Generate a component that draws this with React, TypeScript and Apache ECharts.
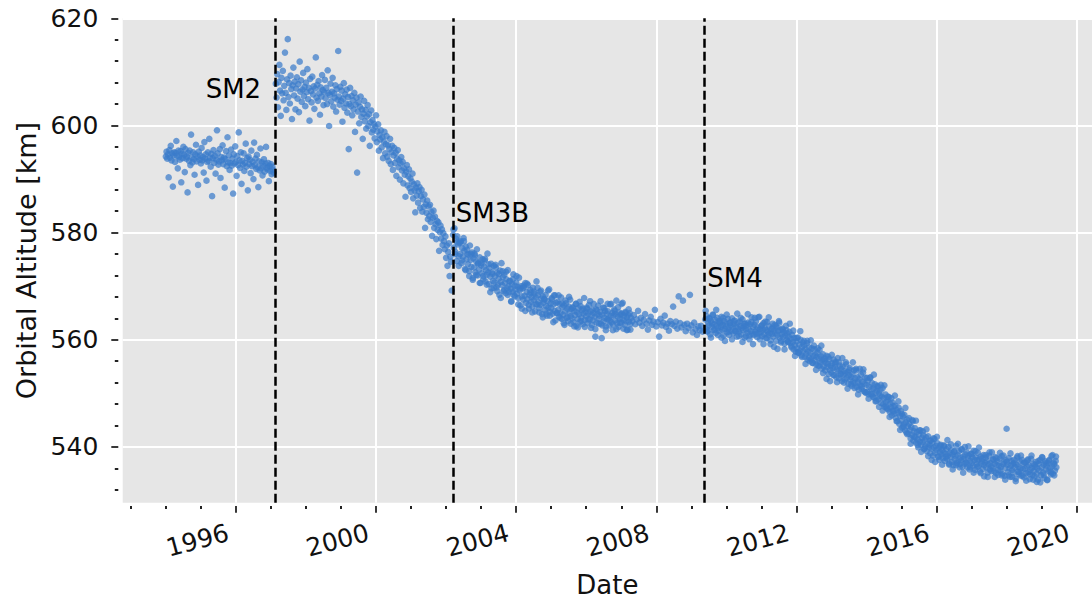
import React, { useEffect, useRef } from "react";
import * as echarts from "echarts";

// ---- Axis ticks ----
const majorYears = [1996, 2000, 2004, 2008, 2012, 2016, 2020];
const minorYears = [1993, 1994, 1995, 1997, 1998, 1999, 2001, 2002, 2003, 2005, 2006, 2007, 2009, 2010, 2011, 2013, 2014, 2015, 2017, 2018, 2019];
const majorAltitudes = [540, 560, 580, 600, 620];
const minorAltitudes = [532, 536, 544, 548, 552, 556, 564, 568, 572, 576, 584, 588, 592, 596, 604, 608, 612, 616];
const xMin = 1992.768;
const xMax = 2020.437;
const yMin = 529.6;
const yMax = 620;

// ---- Servicing missions ----
const missionNames = ["SM2", "SM3B", "SM4"];
const missionDates = [1997.12, 2002.19, 2009.37];
const missionLabelAltitudes = [606.8, 583.7, 571.5];

// ---- Altitude samples (km), each segment sampled at a regular epoch step (years) ----
const preSM2Start = 1994.0;
const preSM2Step = 0.02;
const preSM2Alt = [
  594.2, 595.1, 593.8, 594.6, 590.3, 595.4, 594.0, 596.2, 593.5, 594.8,
  588.6, 594.4, 595.0, 593.2, 594.9, 597.1, 594.3, 592.0, 595.3, 594.1,
  593.6, 595.2, 589.4, 594.7, 593.9, 596.0, 594.5, 591.3, 595.6, 593.8,
  594.2, 587.5, 594.9, 593.4, 595.3, 592.6, 598.3, 594.0, 593.1, 595.0,
  593.7, 590.8, 594.6, 596.4, 593.3, 594.2, 588.9, 595.1, 593.6, 594.4,
  592.9, 595.8, 593.5, 594.1, 591.2, 596.9, 593.8, 594.6, 589.7, 593.2,
  595.0, 593.4, 597.5, 594.0, 592.3, 594.7, 586.8, 593.9, 595.4, 593.0,
  594.3, 591.0, 593.6, 599.1, 594.8, 592.7, 593.3, 595.6, 590.2, 594.1,
  593.5, 596.3, 592.8, 594.0, 588.4, 593.7, 595.2, 592.4, 597.8, 593.1,
  594.4, 591.7, 593.0, 595.5, 592.5, 593.8, 587.3, 594.6, 592.9, 596.1,
  593.2, 590.6, 594.3, 592.6, 598.7, 593.5, 592.1, 595.0, 589.1, 593.4,
  592.7, 594.8, 591.5, 593.0, 596.6, 592.3, 593.9, 587.9, 594.2, 592.8,
  593.6, 591.1, 595.3, 592.4, 593.2, 590.0, 596.8, 592.6, 593.8, 591.9,
  594.5, 592.2, 588.5, 593.3, 591.6, 595.7, 592.0, 593.1, 590.7, 592.5,
  593.7, 591.4, 592.9, 596.0, 592.1, 591.8, 593.0, 589.6, 592.4, 591.5,
  592.8, 590.9, 592.3, 591.7, 591.2,
];

const sm2Start = 1997.14;
const sm2Step = 0.02;
const sm2Alt = [
  607.8, 605.2, 609.6, 603.4, 608.1, 611.3, 606.5, 601.8, 608.9, 606.0,
  610.2, 604.7, 607.4, 613.6, 606.1, 602.9, 608.6, 616.1, 605.3, 607.9,
  604.1, 609.3, 606.8, 601.2, 607.5, 610.8, 605.6, 608.2, 603.0, 606.9,
  609.0, 605.0, 607.7, 602.5, 611.9, 606.3, 608.4, 604.4, 606.7, 609.8,
  605.5, 607.2, 603.6, 608.0, 606.2, 610.5, 604.9, 607.0, 600.9, 608.7,
  606.4, 604.3, 609.1, 605.8, 607.3, 603.1, 606.9, 612.7, 605.2, 607.6,
  604.6, 608.3, 606.0, 602.0, 607.1, 605.4, 609.4, 606.6, 603.8, 606.2,
  608.5, 605.1, 607.0, 604.0, 610.3, 606.1, 599.9, 605.7, 607.8, 604.5,
  606.3, 608.9, 603.5, 606.0, 605.2, 607.5, 602.6, 606.8, 604.8, 613.9,
  605.4, 603.9, 607.2, 604.6, 606.5, 600.7, 605.0, 607.9, 603.3, 605.8,
  604.1, 606.7, 602.4, 605.3, 595.6, 604.0, 607.0, 603.6, 605.5, 601.9,
  604.7, 603.0, 606.1, 598.8, 603.9, 605.2, 591.2, 602.6, 604.3, 600.4,
  603.5, 605.4, 601.6, 603.0, 597.5, 602.2, 604.6, 600.8, 602.9, 599.4,
  601.7, 603.8, 599.9, 602.1, 596.2, 600.6, 602.8, 598.7, 601.0, 599.2,
  600.3, 597.6, 599.8, 601.9, 596.9, 598.9, 600.2, 595.3, 598.2, 597.4,
  599.1, 595.9, 597.8, 593.9, 597.0, 598.8, 594.8, 596.5, 598.0, 594.2,
  596.3, 593.4, 595.6, 597.5, 592.8, 595.0, 596.2, 591.7, 594.4, 595.8,
  593.0, 594.9, 590.6, 593.8, 595.4, 592.2, 593.5, 589.9, 592.9, 594.1,
  591.6, 593.2, 589.2, 592.0, 590.8, 586.7, 591.4, 592.6, 588.8, 590.5,
  591.8, 588.3, 590.1, 587.6, 589.5, 591.0, 586.4, 589.0, 587.9, 583.8,
  588.4, 586.9, 589.2, 585.6, 587.7, 588.5, 584.6, 586.8, 588.0, 583.9,
  586.2, 584.8, 587.1, 580.9, 585.3, 583.7, 586.0, 582.5, 584.9, 583.1,
  585.2, 582.0, 583.9, 579.4, 582.8, 584.1, 580.9, 583.0, 581.6, 578.8,
  582.2, 580.5, 581.9, 576.6, 580.1, 581.3, 578.9, 580.6, 577.7, 579.9,
  578.4, 576.9, 579.3, 575.3, 577.6, 573.8, 576.4, 578.0, 571.9, 575.5,
  574.6, 569.2,
];

const sm3bStart = 2002.2;
const sm3bStep = 0.02;
const sm3bAlt = [
  579.6, 577.2, 580.8, 576.4, 578.9, 574.7, 579.3, 577.8, 575.6, 578.1,
  576.0, 578.4, 574.3, 577.1, 575.5, 579.0, 576.6, 573.2, 577.4, 575.0,
  576.8, 574.1, 575.9, 572.8, 577.6, 574.9, 573.6, 576.3, 571.5, 575.2,
  573.5, 575.8, 572.6, 574.6, 576.9, 572.0, 574.3, 573.1, 575.4, 570.6,
  573.9, 572.4, 575.0, 571.3, 573.6, 574.8, 570.9, 573.0, 572.1, 576.1,
  572.6, 570.4, 573.4, 571.8, 574.2, 569.6, 572.3, 571.0, 573.8, 570.7,
  571.9, 573.5, 569.8, 572.5, 570.3, 571.4, 568.4, 572.9, 570.8, 574.3,
  570.2, 571.7, 569.1, 572.1, 570.6, 568.7, 571.3, 569.6, 573.0, 570.0,
  568.9, 571.0, 569.5, 567.2, 570.4, 569.0, 572.2, 568.3, 570.1, 569.4,
  570.7, 568.6, 569.9, 567.8, 571.6, 569.2, 566.4, 570.0, 568.1, 569.6,
  567.5, 569.8, 568.2, 570.6, 566.9, 568.9, 567.6, 570.2, 565.8, 568.4,
  569.3, 567.1, 568.0, 566.2, 569.7, 567.4, 568.6, 565.3, 567.9, 570.9,
  566.6, 568.3, 567.0, 565.9, 569.0, 566.5, 567.7, 564.8, 568.1, 566.9,
  567.5, 565.6, 568.4, 566.3, 564.5, 567.2, 566.0, 569.4, 565.2, 566.8,
  565.9, 567.6, 564.9, 566.6, 568.3, 565.4, 563.6, 566.9, 565.0, 567.1,
  565.6, 564.3, 566.7, 565.0, 567.9, 563.9, 566.1, 564.7, 566.4, 562.8,
  565.3, 566.8, 564.1, 565.8, 563.5, 566.2, 565.0, 567.5, 564.4, 565.7,
  564.0, 566.0, 563.3, 565.4, 564.6, 566.7, 562.6, 565.1, 563.9, 565.9,
  564.8, 563.4, 566.3, 564.2, 565.5, 562.9, 564.9, 567.8, 563.7, 565.2,
  564.4, 565.8, 563.1, 564.9, 566.5, 563.8, 565.3, 562.2, 564.6, 565.6,
  563.6, 565.0, 564.3, 560.6, 565.7, 563.2, 564.8, 566.4, 563.9, 564.5,
  565.2, 563.0, 560.3, 564.7, 566.0, 563.5, 564.1, 565.4, 562.5, 564.9,
  563.8, 565.3, 564.0, 562.7, 566.6, 564.4, 563.3, 565.0, 561.8, 564.6,
  565.7, 563.6, 564.8, 567.3, 563.1, 564.3, 562.4, 565.1, 563.9, 564.7,
  563.2, 564.9, 566.9, 563.7, 564.5, 562.8, 565.2, 563.5, 564.2, 561.9,
  564.6, 563.4, 565.0, 562.9, 564.1,
];

// Interleaved second tracking set (wider scatter) after SM3B
const sm3bExtraStart = 2002.21;
const sm3bExtraStep = 0.05;
const sm3bExtraAlt = [
  580.6, 576.0, 578.2, 573.8, 578.2,
  574.8, 578.4, 573.0, 576.0, 571.9,
  576.0, 571.2, 576.1, 572.1, 574.2,
  570.6, 574.3, 571.9, 575.1, 570.3,
  574.1, 568.9, 572.6, 569.7, 574.0,
  569.1, 572.3, 567.8, 572.8, 569.3,
  572.7, 568.4, 570.9, 567.1, 571.3,
  568.1, 571.9, 566.6, 569.6, 565.8,
  570.1, 565.4, 570.5, 566.5, 568.8,
  565.1, 569.0, 566.6, 569.7, 565.1,
  569.2, 564.2, 567.6, 564.9, 569.2,
  564.5, 567.8, 563.3, 568.3, 565.0,
  568.3, 564.1, 566.8, 563.1, 567.3,
  564.2, 568.0, 563.0, 566.0, 562.5,
  566.7, 562.3, 567.1, 563.5, 565.8,
  562.4, 566.0, 563.8, 567.2, 562.8,
  566.7, 562.0, 565.5, 563.0, 567.2,
  562.7, 565.9, 561.8, 566.7, 563.6,
  566.7, 562.9, 565.4, 562.0, 566.1,
  563.2, 566.7, 562.1, 565.0, 561.8,
  565.7, 561.9,
];

const lateSm3bStart = 2007.32;
const lateSm3bStep = 0.04;
const lateSm3bAlt = [
  563.5, 564.6, 562.9, 563.8, 565.4, 563.2, 564.1, 562.6, 563.7, 564.8,
  563.0, 561.9, 563.6, 564.3, 562.8, 563.4, 565.6, 562.5, 563.3, 560.6,
  563.9, 562.7, 563.2, 564.5, 562.4, 563.0, 561.7, 563.5, 562.9, 566.2,
  562.6, 563.4, 562.1, 568.1, 563.1, 562.3, 567.3, 562.8, 561.6, 563.0,
  562.2, 568.4, 562.7, 561.4, 563.2, 562.0, 560.9, 562.5, 561.8, 562.6, 561.5,
];

const sm4Start = 2009.4;
const sm4Step = 0.02;
const sm4Alt = [
  563.8, 562.1, 564.4, 561.5, 563.2, 562.7, 564.0, 561.0, 563.5, 562.4,
  563.0, 564.6, 561.8, 562.9, 563.7, 561.3, 562.6, 564.1, 562.2, 563.4,
  561.6, 563.1, 562.4, 564.3, 561.9, 562.8, 560.8, 563.5, 562.0, 563.0,
  562.5, 561.4, 563.9, 562.1, 560.9, 563.2, 562.7, 561.7, 564.0, 562.3,
  561.2, 562.9, 563.6, 561.6, 562.4, 560.6, 563.1, 562.0, 561.5, 563.4,
  562.6, 561.0, 562.2, 563.8, 561.8, 562.5, 560.4, 563.0, 561.9, 562.7,
  561.3, 563.2, 562.0, 560.8, 562.9, 561.6, 564.2, 561.1, 562.4, 560.9,
  562.8, 561.5, 563.4, 561.9, 560.5, 562.3, 561.2, 564.3, 562.0, 561.4,
  562.6, 560.7, 561.9, 563.1, 561.0, 562.2, 560.3, 561.8, 563.3, 561.5,
  560.9, 562.5, 561.3, 559.9, 562.0, 561.1, 563.0, 560.6, 561.7, 562.8,
  561.2, 559.8, 562.3, 560.9, 561.6, 563.5, 560.4, 561.9, 559.5, 561.0,
  562.1, 560.5, 561.4, 559.3, 560.8, 562.6, 560.0, 561.2, 559.7, 560.6,
  561.5, 559.4, 560.2, 558.6, 560.9, 559.6, 558.2, 560.3, 559.0, 557.8,
  559.7, 558.4, 560.4, 557.6, 559.1, 558.0, 560.0, 557.1, 558.7, 559.5,
  557.9, 559.0, 556.8, 558.3, 557.4, 559.4, 556.3, 557.8, 558.6, 556.0,
  557.5, 556.4, 558.4, 555.7, 557.0, 558.9, 556.1, 557.2, 555.4, 556.8,
  557.6, 555.2, 556.5, 558.1, 555.8, 556.9, 554.6, 556.2, 557.3, 555.0,
  556.0, 554.3, 555.7, 557.0, 554.9, 555.5, 553.6, 556.4, 554.4, 555.2,
  553.9, 555.6, 554.7, 556.3, 553.4, 554.9, 555.9, 553.0, 554.5, 556.6,
  554.1, 552.8, 555.2, 553.7, 554.6, 552.3, 555.0, 553.5, 554.2, 552.6,
  553.8, 555.4, 552.9, 554.0, 551.8, 553.4, 554.7, 552.5, 553.1, 551.4,
  553.6, 552.2, 554.3, 551.9, 552.8, 554.6, 551.2, 553.0, 552.0, 550.7,
  552.6, 551.5, 553.5, 550.9, 552.2, 553.9, 550.4, 551.8, 552.9, 550.1,
  551.6, 550.3, 552.4, 549.8, 551.2, 552.9, 549.9, 550.8, 551.9, 549.4,
  550.9, 549.2, 551.7, 550.1, 548.6, 550.5, 551.4, 548.9, 550.0, 549.5,
  550.6, 548.2, 549.4, 551.0, 548.0, 549.1, 547.5, 549.8, 548.4, 547.2,
  548.8, 547.0, 549.3, 546.6, 548.1, 547.4, 545.9, 548.3, 546.8, 547.6,
  546.2, 547.7, 545.4, 546.9, 544.8, 546.4, 547.3, 544.3, 545.8, 546.7,
  544.9, 543.6, 545.7, 544.2, 546.0, 543.1, 544.6, 542.7, 545.1, 543.9,
  542.5, 544.3, 543.2, 541.6, 543.7, 542.2, 544.8, 541.2, 542.9, 543.5,
  541.9, 540.8, 542.8, 541.4, 539.9, 542.3, 541.0, 543.1, 540.4, 541.7,
  540.9, 542.2, 539.6, 541.3, 540.1, 541.8, 539.2, 540.6, 542.0, 539.9,
  540.4, 538.8, 541.2, 539.7, 540.8, 538.4, 539.9, 541.5, 538.9, 540.2,
  539.4, 540.7, 538.2, 539.8, 537.6, 539.1, 540.4, 538.6, 539.5, 537.9,
  539.0, 540.1, 537.4, 538.7, 539.6, 537.8, 538.4, 540.0, 536.9, 538.9,
  538.1, 539.4, 537.2, 538.6, 536.6, 539.1, 537.7, 538.3, 540.2, 537.0,
  538.5, 537.3, 539.2, 536.8, 538.0, 537.5, 539.6, 536.3, 538.2, 537.8,
  536.9, 538.6, 537.1, 539.0, 536.2, 537.9, 538.4, 535.8, 537.4, 538.7,
  537.0, 538.1, 536.5, 539.3, 537.6, 535.7, 538.0, 536.8, 537.5, 538.9,
  536.4, 537.7, 535.4, 538.2, 536.9, 537.3, 535.9, 538.5, 536.6, 537.1,
  538.0, 536.2, 537.4, 535.2, 536.8, 538.4, 535.8, 537.0, 536.4, 539.0,
  536.0, 537.6, 535.5, 536.9, 538.1, 535.1, 536.6, 537.3, 534.8, 536.5,
  537.8, 535.6, 536.3, 538.3, 535.0, 536.8, 537.2, 534.6, 536.1, 537.5,
  543.4, 536.7, 535.3, 537.9, 536.0, 534.4, 536.5, 537.4, 535.7, 536.9,
  535.2, 537.0, 536.2, 534.1, 536.7, 538.0, 535.4, 536.3, 534.9, 537.3,
  536.0, 534.6, 537.6, 535.8, 536.9, 534.3, 535.9, 537.1, 535.1, 536.4,
  537.5, 535.3, 536.6, 534.0, 535.7, 537.8, 536.1, 534.8, 536.8, 535.5,
  534.5, 536.3, 537.2, 535.0, 536.0, 533.9, 536.9, 535.6, 537.6, 534.7,
  536.2, 538.0, 535.2, 536.7, 534.2, 537.3, 535.8, 536.5, 533.8, 537.0,
  535.5, 537.6, 536.1, 534.9, 538.3, 536.4, 535.0, 537.1, 536.8, 535.6,
  537.4, 536.2,
];

// Interleaved second tracking set (wider scatter) after SM4
const sm4ExtraStart = 2009.41;
const sm4ExtraStep = 0.05;
const sm4ExtraAlt = [
  565.4, 561.7, 564.0, 560.4, 564.7,
  561.9, 565.6, 560.9, 563.5, 560.4,
  564.1, 559.8, 564.7, 561.5, 563.2,
  560.1, 563.5, 561.6, 564.9, 560.7,
  564.1, 559.6, 563.0, 560.7, 564.8,
  560.1, 563.3, 559.2, 564.1, 561.1,
  564.2, 560.1, 562.7, 559.2, 563.4,
  560.3, 564.2, 559.2, 562.1, 558.7,
  562.6, 558.3, 563.2, 559.8, 561.9,
  558.2, 561.8, 559.6, 563.0, 558.8,
  561.7, 557.0, 560.3, 557.6, 561.6,
  556.8, 559.8, 555.5, 559.8, 556.7,
  559.9, 555.7, 558.2, 554.4, 558.4,
  555.2, 558.9, 553.8, 556.5, 552.7,
  556.8, 552.3, 557.2, 553.4, 555.6,
  552.1, 555.8, 553.5, 556.6, 552.0,
  555.8, 550.9, 554.4, 551.7, 555.8,
  551.0, 554.3, 549.8, 554.6, 551.3,
  554.5, 550.3, 552.9, 549.0, 553.0,
  549.8, 553.5, 548.5, 551.2, 547.5,
  551.6, 546.8, 551.5, 547.6, 549.4,
  545.6, 549.1, 546.6, 549.6, 544.8,
  548.5, 543.2, 546.2, 543.8, 547.3,
  542.4, 545.4, 540.6, 545.0, 541.9,
  544.9, 540.4, 543.1, 539.1, 542.9,
  539.7, 543.3, 538.3, 541.2, 537.6,
  541.6, 537.2, 541.9, 538.2, 540.2,
  536.7, 540.3, 538.1, 541.3, 536.7,
  540.5, 535.8, 539.2, 536.6, 540.6,
  536.2, 539.5, 535.2, 540.0, 536.9,
  540.1, 536.2, 538.7, 535.2, 539.2,
  536.3, 539.9, 535.1, 537.9, 534.5,
  538.5, 534.4, 539.0, 535.5, 537.7,
  534.4, 537.9, 535.7, 538.9, 534.7,
  538.4, 533.9, 537.2, 534.7, 538.8,
  534.4, 537.6, 533.6, 538.3, 535.3,
  538.4, 534.7, 537.1, 533.7, 537.7,
  534.9, 538.4, 533.9, 536.7, 533.5,
  537.4, 533.4, 538.1, 534.8, 537.0,
  533.9, 537.4, 535.3, 538.5, 534.7,
  538.2,
];

function samplesToPoints(start: number, step: number, alts: number[]) {
  return alts.map((a, i) => [start + i * step, a]);
}

const FONT = "DejaVu Sans";
const TEXT = "#111111";

export default function App() {
  const ref = useRef<HTMLDivElement>(null);

  useEffect(() => {
    if (!ref.current) return;
    const chart = echarts.init(ref.current, null, { renderer: "svg" });

    const points = [
      ...samplesToPoints(preSM2Start, preSM2Step, preSM2Alt),
      ...samplesToPoints(sm2Start, sm2Step, sm2Alt),
      ...samplesToPoints(sm3bStart, sm3bStep, sm3bAlt),
      ...samplesToPoints(sm3bExtraStart, sm3bExtraStep, sm3bExtraAlt),
      ...samplesToPoints(lateSm3bStart, lateSm3bStep, lateSm3bAlt),
      ...samplesToPoints(sm4Start, sm4Step, sm4Alt),
      ...samplesToPoints(sm4ExtraStart, sm4ExtraStep, sm4ExtraAlt),
    ];

    const numFmt = (v: number) => String(Math.round(v));

    chart.setOption({
      animation: false,
      backgroundColor: "#ffffff",
      grid: {
        left: 122.7,
        top: 18.3,
        width: 969.3,
        height: 484.4,
        show: true,
        backgroundColor: "#e6e6e6",
        borderWidth: 0,
        containLabel: false,
        outerBoundsMode: "none",
      },
      xAxis: [
        {
          type: "value",
          min: xMin,
          max: xMax,
          position: "bottom",
          offset: 3.3,
          axisLine: { show: false },
          axisTick: {
            show: true,
            customValues: majorYears,
            length: 6.7,
            lineStyle: { color: "#222", width: 1.8 },
          },
          axisLabel: {
            show: true,
            customValues: majorYears,
            rotate: 15,
            margin: 24,
            padding: [0, 8, 0, 0],
            fontSize: 25,
            fontFamily: FONT,
            color: TEXT,
            formatter: numFmt,
          },
          splitLine: { show: true, lineStyle: { color: "#ffffff", width: 2 } },
          name: "Date",
          nameLocation: "middle",
          nameGap: 66,
          nameTextStyle: { fontSize: 26, fontFamily: FONT, color: TEXT },
        },
        {
          type: "value",
          min: xMin,
          max: xMax,
          position: "bottom",
          offset: 3.3,
          axisLine: { show: false },
          axisTick: {
            show: true,
            customValues: minorYears,
            length: 3,
            lineStyle: { color: "#222", width: 2 },
          },
          axisLabel: { show: false },
          splitLine: { show: false },
        },
      ],
      yAxis: [
        {
          type: "value",
          min: yMin,
          max: yMax,
          position: "left",
          offset: 4.4,
          axisLine: { show: false },
          axisTick: {
            show: true,
            customValues: majorAltitudes,
            length: 7,
            lineStyle: { color: "#222", width: 1.8 },
          },
          axisLabel: {
            show: true,
            customValues: majorAltitudes,
            margin: 20,
            fontSize: 25,
            fontFamily: FONT,
            color: TEXT,
            formatter: numFmt,
          },
          splitLine: { show: true, lineStyle: { color: "#ffffff", width: 2 } },
          name: "Orbital Altitude [km]",
          nameLocation: "middle",
          nameRotate: 90,
          nameGap: 78,
          nameTextStyle: { fontSize: 27, fontFamily: FONT, color: TEXT },
        },
        {
          type: "value",
          min: yMin,
          max: yMax,
          position: "left",
          offset: 4.4,
          axisLine: { show: false },
          axisTick: {
            show: true,
            customValues: minorAltitudes,
            length: 3.5,
            lineStyle: { color: "#222", width: 2 },
          },
          axisLabel: { show: false },
          splitLine: { show: false },
        },
      ],
      series: [
        {
          name: "Altitude",
          type: "scatter",
          xAxisIndex: 0,
          yAxisIndex: 0,
          data: points,
          symbol: "circle",
          symbolSize: 6.6,
          itemStyle: { color: "#3a7bca", opacity: 0.72 },
          silent: true,
          markLine: {
            silent: true,
            symbol: ["none", "none"],
            label: { show: false },
            lineStyle: { color: "#000000", width: 2.5, type: [9, 4], opacity: 1 },
            data: missionDates.map((d) => ({ xAxis: d })),
          },
        },
        {
          name: "Missions",
          type: "scatter",
          xAxisIndex: 0,
          yAxisIndex: 0,
          symbolSize: 0,
          silent: true,
          data: missionNames.map((n, i) => ({
            name: n,
            value: [missionDates[i], missionLabelAltitudes[i]],
            label: {
              position: i === 0 ? "left" : "right",
              distance: i === 0 ? 14 : 3,
            },
          })),
          label: {
            show: true,
            formatter: "{b}",
            fontSize: 26,
            fontFamily: FONT,
            color: "#000000",
            opacity: 1,
          },
        },
      ],
    });

    return () => chart.dispose();
  }, []);

  return (
    <div
      ref={ref}
      style={{
        position: "fixed",
        left: 0,
        top: 0,
        width: 1092,
        height: 600,
        background: "#ffffff",
      }}
    />
  );
}
